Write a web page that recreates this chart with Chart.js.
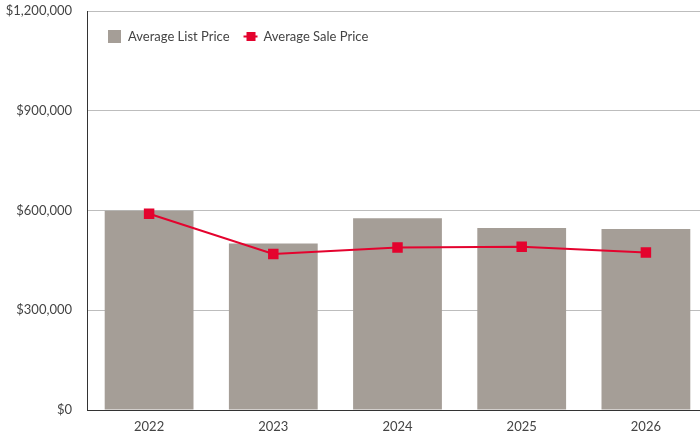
<!DOCTYPE html>
<html lang="en">
<head>
    <meta charset="UTF-8">
    <title>Average List vs Sale Price</title>
    <script src="https://cdn.jsdelivr.net/npm/chart.js@4/dist/chart.umd.min.js"></script>
    <style>
        * { margin: 0; padding: 0; box-sizing: border-box; }
        body { background: #fff; width: 700px; height: 438px; overflow: hidden; }
        /* the plot runs a little past the right edge of the picture */
        .wrap { position: relative; width: 708px; height: 438px; }
    </style>
</head>
<body>
    <div class="wrap">
        <canvas id="priceChart"></canvas>
    </div>

    <script>
        // Data
        const years = ['2022', '2023', '2024', '2025', '2026'];
        const listPrice = [599000, 501000, 577000, 547000, 544000];
        const salePrice = [590000, 469000, 489000, 491000, 474000];
        const yTicks = [0, 300000, 600000, 900000, 1200000];

        const GREY = '#a59e97';
        const RED = '#e4032e';
        const FONT = 'Lato, "Open Sans", sans-serif';

        // draws the legend inside the plot, top-left
        const innerLegend = {
            id: 'innerLegend',
            afterDraw(chart) {
                const ctx = chart.ctx;
                const area = chart.chartArea;
                const y = area.top + 25;
                let x = area.left + 21;
                ctx.save();
                ctx.font = '13px ' + FONT;
                ctx.textBaseline = 'middle';
                chart.data.datasets.forEach((ds, i) => {
                    if (ds.type === 'bar') {
                        ctx.fillStyle = ds.backgroundColor;
                        ctx.fillRect(x, y - 6, 13, 13);
                        x += 20;
                    } else {
                        ctx.strokeStyle = ds.borderColor;
                        ctx.lineWidth = 2;
                        ctx.beginPath();
                        ctx.moveTo(x, y + 0.5);
                        ctx.lineTo(x + 14, y + 0.5);
                        ctx.stroke();
                        ctx.fillStyle = ds.borderColor;
                        ctx.fillRect(x + 3, y - 4, 9, 9);
                        x += 20;
                    }
                    ctx.fillStyle = '#444';
                    ctx.textAlign = 'left';
                    ctx.fillText(ds.label, x, y + 1);
                    x += ctx.measureText(ds.label).width + 14;
                });
                ctx.restore();
            }
        };

        new Chart(document.getElementById('priceChart'), {
            data: {
                labels: years,
                datasets: [{
                    type: 'bar',
                    label: 'Average List Price',
                    data: listPrice,
                    backgroundColor: GREY,
                    categoryPercentage: 1,
                    barPercentage: 0.715,
                    order: 2
                }, {
                    type: 'line',
                    label: 'Average Sale Price',
                    data: salePrice,
                    borderColor: RED,
                    backgroundColor: RED,
                    borderWidth: 2,
                    pointStyle: 'rect',
                    pointRadius: 6,
                    pointHoverRadius: 6,
                    tension: 0,
                    order: 1
                }]
            },
            options: {
                responsive: true,
                maintainAspectRatio: false,
                animation: false,
                layout: { autoPadding: false, padding: 0 },
                plugins: {
                    legend: { display: false },
                    tooltip: { enabled: false }
                },
                scales: {
                    x: {
                        grid: { display: false, drawTicks: false },
                        border: { color: '#333', width: 1 },
                        ticks: {
                            color: '#444',
                            padding: 9,
                            font: { family: FONT, size: 13 }
                        },
                        afterFit: s => { s.height = 28; }
                    },
                    y: {
                        min: 0,
                        max: 1200000,
                        afterBuildTicks: s => { s.ticks = yTicks.map(v => ({ value: v })); },
                        grid: { color: '#bdbdbd', drawTicks: false, lineWidth: 1 },
                        border: { color: '#333', width: 1 },
                        ticks: {
                            color: '#444',
                            padding: 15,
                            font: { family: FONT, size: 13 },
                            callback: v => '$' + Number(v).toLocaleString('en-US')
                        },
                        afterFit: s => {
                            s.width = 87;
                            s.paddingTop = 11;
                            s.paddingBottom = 0;
                        }
                    }
                }
            },
            plugins: [innerLegend]
        });
    </script>
</body>
</html>
